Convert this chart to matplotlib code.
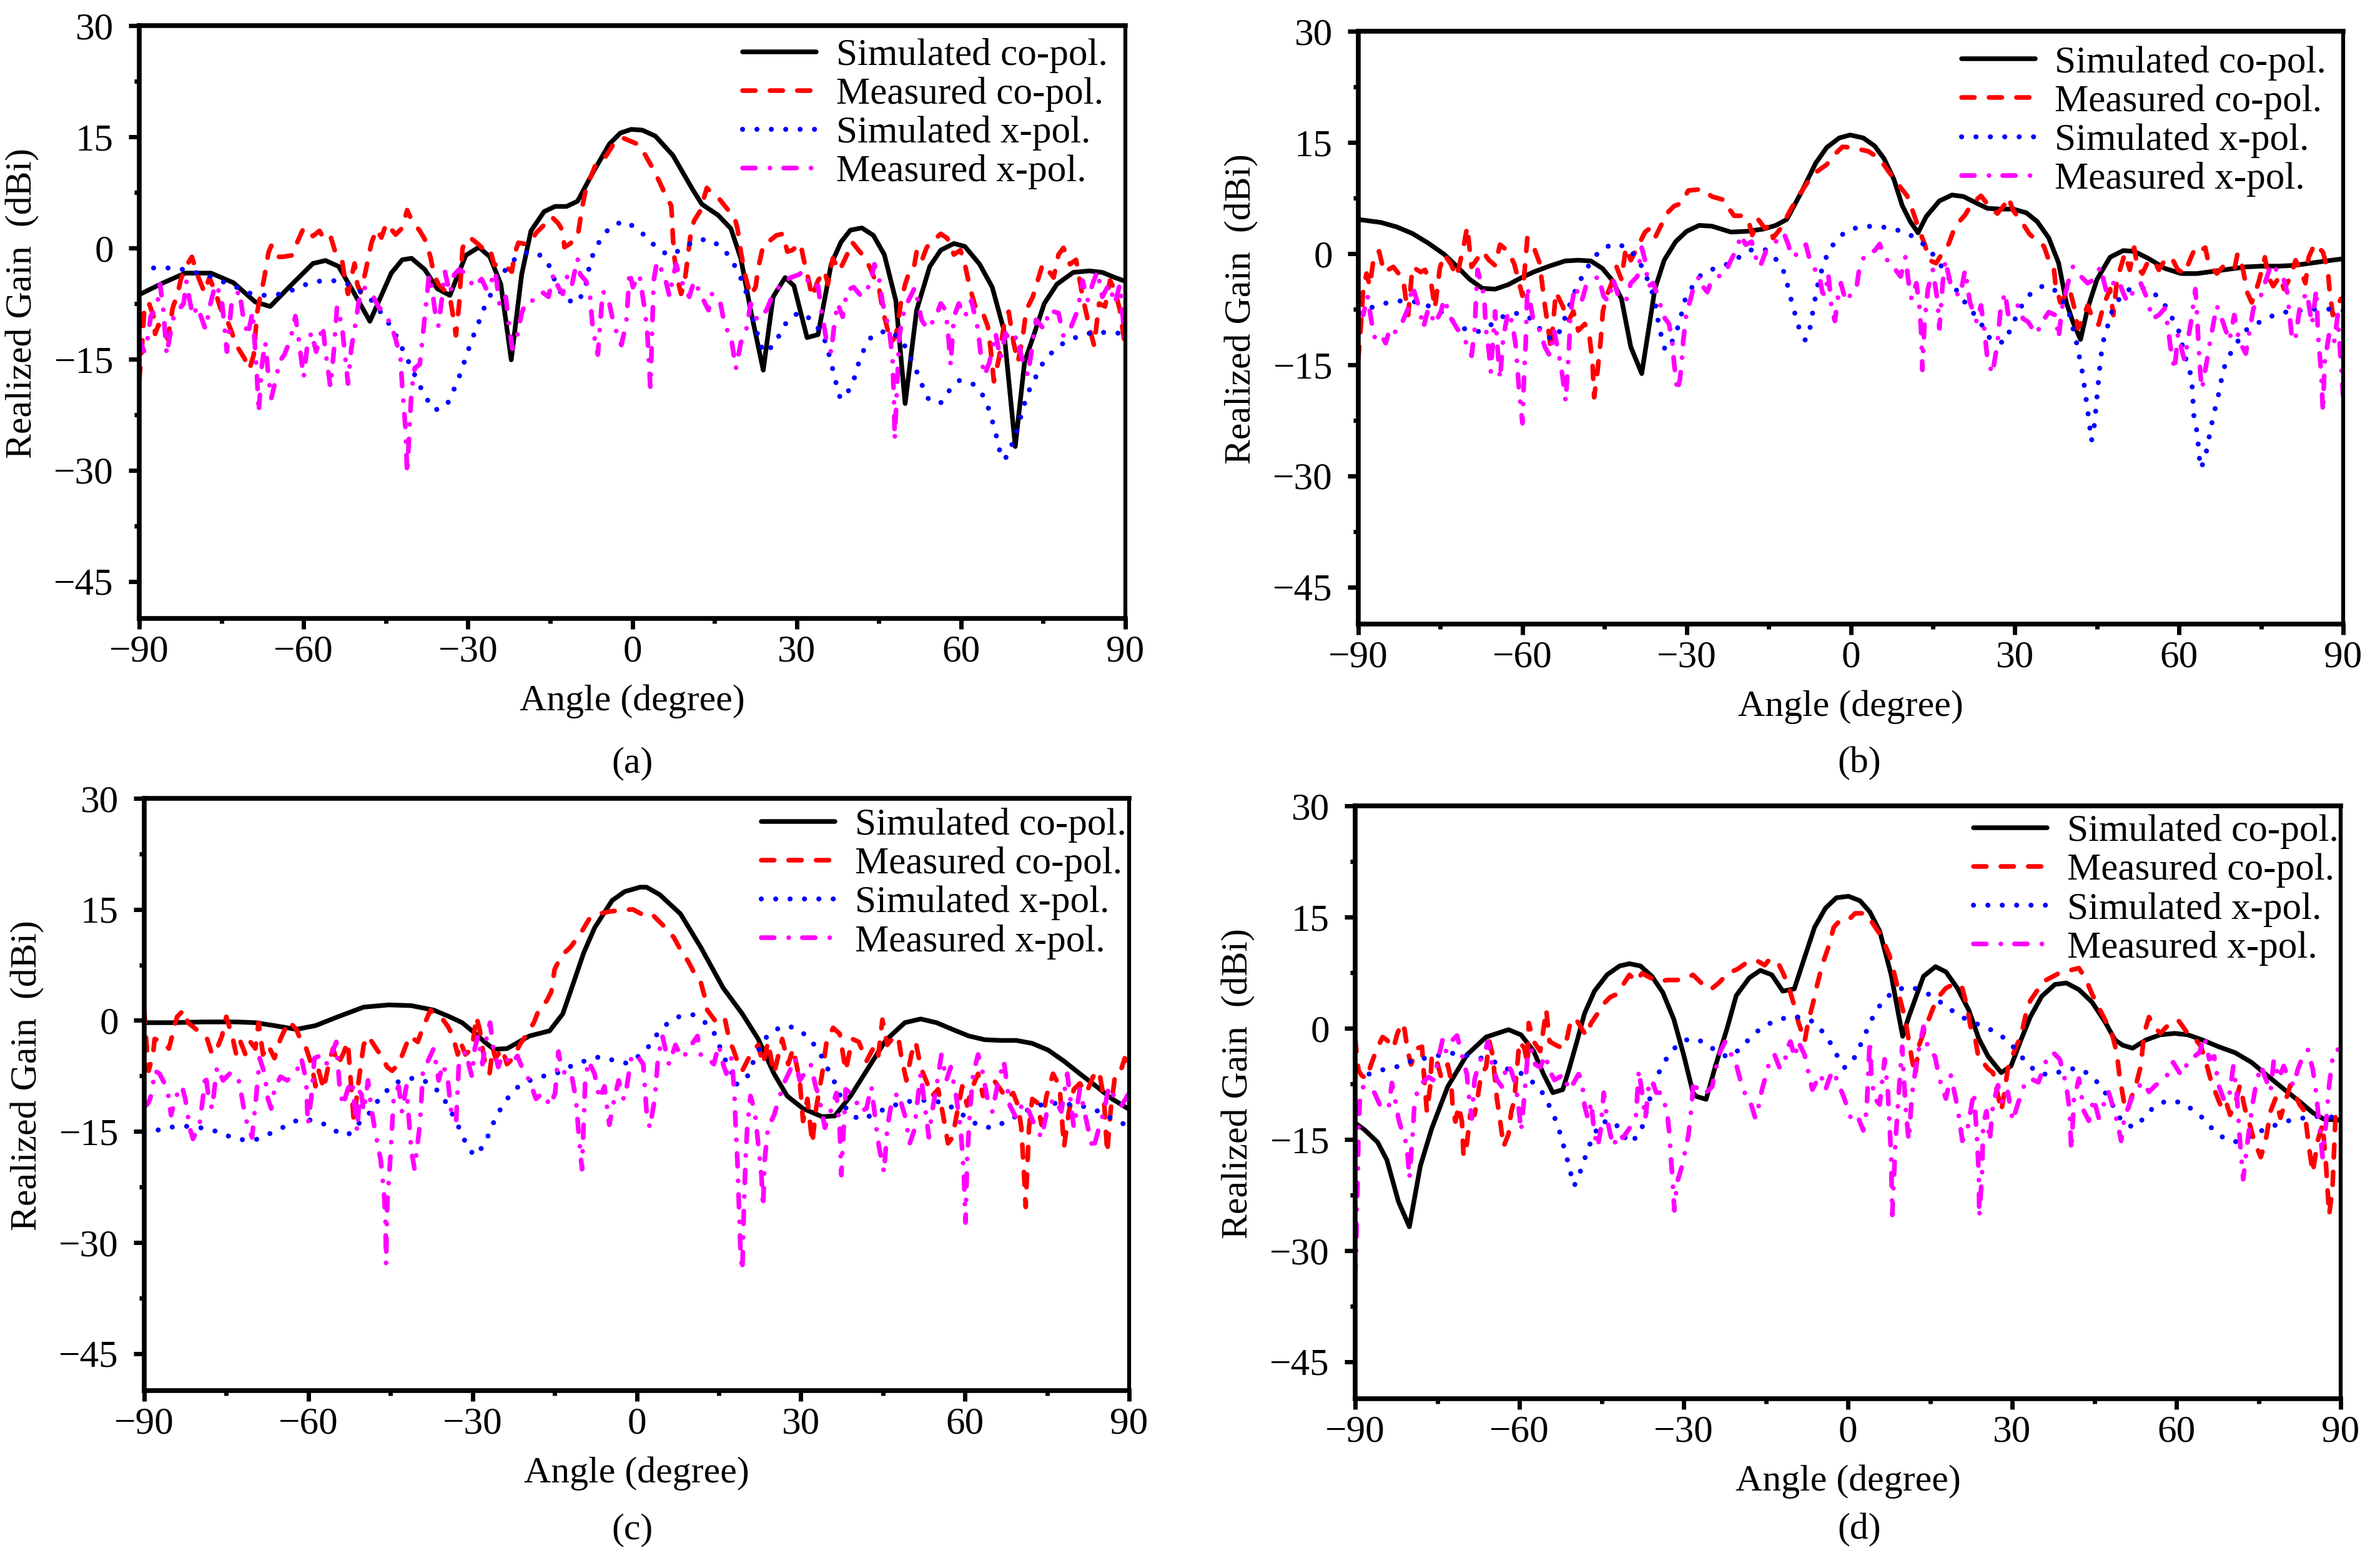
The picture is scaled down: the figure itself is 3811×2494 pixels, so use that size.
import numpy as np
import matplotlib
matplotlib.use('Agg')
import matplotlib.pyplot as plt

plt.rcParams['font.family'] = ['Liberation Serif', 'DejaVu Serif']

LABELS = ['Simulated co-pol.', 'Measured co-pol.', 'Simulated x-pol.', 'Measured x-pol.']
CAPTIONS = ['(a)', '(b)', '(c)', '(d)']
XTICKS = [-90, -60, -30, 0, 30, 60, 90]
YTICKS = [-45, -30, -15, 0, 15, 30]

# ---------------- panel (a) ----------------
a_sim_co = [(-90,-6.3),(-85.6,-4.7),(-81.6,-3.4),(-76.9,-3.4),(-72.8,-4.7),(-68.8,-7.3),(-66.1,-7.9),(-62.4,-5.1),
            (-58.3,-2.1),(-56.0,-1.7),(-53.6,-2.5),(-50.7,-6.2),(-47.9,-9.9),(-44.0,-3.4),(-42.0,-1.6),(-40.3,-1.4),
            (-37.9,-2.9),(-35.6,-5.5),(-33.3,-6.4),(-30.4,-1.0),(-28.0,0.1),(-26.0,-1.2),(-24.0,-4.9),(-22.1,-15.1),
            (-20.2,-3.6),(-18.5,2.3),(-16.1,4.9),(-14.1,5.6),(-12.0,5.6),(-10.0,6.3),(-7.1,10.3),(-4.2,14.0),(-2.2,15.5),
            (-0.2,16.0),(1.8,15.9),(4.2,15.1),(7.4,12.5),(11.0,7.9),(12.7,5.9),(15.7,4.4),(18.0,2.6),(19.8,-1.4),
            (21.6,-8.4),(23.9,-16.5),(25.7,-6.6),(27.9,-4.0),(29.5,-5.1),(31.9,-12.1),(33.9,-11.7),(36.3,-2.2),(38.1,0.8),
            (39.8,2.4),(41.9,2.7),(44.0,1.7),(46.0,-0.9),(48.1,-7.1),(49.8,-21.0),(51.9,-8.4),(54.3,-2.5),(56.3,-0.3),
            (58.7,0.6),(60.7,0.2),(63.4,-2.2),(65.7,-5.3),(67.8,-11.0),(69.9,-26.8),(71.6,-15.4),(73.4,-11.5),(75.2,-7.5),
            (77.5,-4.9),(80.5,-3.3),(83.4,-3.1),(85.8,-3.3),(88.1,-4.0),(90,-4.5)]
a_meas_co = [(-90,-17.9),(-89.4,-12.3),(-89.1,-8.4),(-88.3,-7.3),(-87.4,-9.2),(-87.1,-11.6),(-86.5,-10.4),(-85.6,-11.0),
             (-84.8,-12.3),(-83.9,-8.1),(-83.0,-6.2),(-82.4,-4.2),(-81.6,-2.7),(-80.4,-1.2),(-79.2,-4.0),(-78.1,-6.0),
             (-77.2,-4.0),(-76.0,-6.2),(-75.2,-8.1),(-74.0,-9.7),(-73.1,-11.4),(-72.3,-13.1),(-70.8,-14.9),(-69.9,-16.4),
             (-69.1,-14.4),(-68.5,-8.8),(-67.9,-6.4),(-67.3,-4.5),(-66.4,-0.6),(-65.9,0.3),(-65.0,-1.2),(-63.8,-1.2),
             (-62.1,-1.0),(-61.2,0.7),(-60.0,2.7),(-58.3,1.6),(-57.1,2.3),(-56.3,1.2),(-55.1,1.6),(-54.2,-0.6),(-53.0,-1.6),
             (-52.5,-4.0),(-51.9,-6.2),(-51.3,-4.0),(-50.7,-2.1),(-50.2,-4.9),(-49.6,-6.0),(-48.7,-3.2),(-48.1,-1.0),
             (-47.6,0.7),(-46.7,2.5),(-45.8,1.4),(-44.9,3.3),(-43.2,1.8),(-42.0,2.7),(-41.1,5.1),(-40.3,3.8),(-38.8,2.3),
             (-37.9,1.2),(-37.4,0.3),(-36.8,-1.4),(-36.2,-3.6),(-35.4,-4.9),(-34.2,-5.8),(-33.3,-6.6),(-32.8,-8.8),
             (-32.2,-11.8),(-31.6,-7.5),(-31.0,-0.1),(-30.4,1.2),(-29.3,1.2),(-28.1,0.5),(-27.0,-0.3),(-26.0,-0.1),
             (-25.2,-2.3),(-24.0,-2.1),(-22.8,-2.7),(-22.0,-3.2),(-21.4,-0.6),(-20.8,0.7),(-19.3,0.5),(-18.2,1.2),
             (-17.6,2.0),(-16.1,3.1),(-14.7,4.2),(-13.5,3.3),(-12.7,2.3),(-12.4,0.1),(-11.5,0.5),(-10.0,1.4),(-9.2,5.3),
             (-8.6,7.5),(-7.7,9.4),(-6.6,11.4),(-4.8,12.4),(-3.1,14.4),(-1.6,14.8),(1.0,14.0),(2.4,12.5),(3.9,10.5),
             (5.1,8.7),(6.0,7.2),(7.1,5.7),(7.3,3.5),(7.4,1.5),(7.7,-1.4),(8.3,-4.4),(8.9,-6.2),(9.5,-4.9),(10.1,-1.4),
             (10.7,2.2),(11.3,3.7),(12.4,5.0),(13.6,8.1),(14.8,7.2),(16.0,6.5),(17.4,5.2),(18.6,4.3),(19.2,2.6),
             (19.8,-0.5),(20.7,-4.0),(21.6,-6.4),(22.5,-5.3),(23.0,-2.7),(23.9,0.4),(24.8,0.8),(26.3,1.7),(27.5,1.9),
             (28.3,-0.5),(29.2,-0.3),(30.7,0.6),(31.3,-1.6),(32.2,-4.4),(32.8,-6.6),(33.9,-4.4),(35.1,-3.1),(35.7,-4.9),
             (36.6,-1.4),(37.8,-3.1),(39.2,-0.9),(40.1,0.8),(41.3,-0.3),(42.5,-1.4),(43.4,-2.7),(45.1,-5.7),(45.7,-8.4),
             (46.6,-11.0),(47.2,-12.8),(48.1,-11.9),(49.0,-7.5),(49.8,-4.9),(50.4,-3.6),(51.3,-3.1),(51.9,-0.5),
             (52.8,-1.8),(53.7,0.0),(54.5,0.8),(55.4,1.3),(56.3,1.9),(57.5,1.3),(58.7,-0.9),(59.9,-0.3),(60.7,-2.2),
             (61.6,-5.3),(62.8,-8.4),(64.0,-8.8),(64.9,-10.6),(65.4,-13.6),(66.0,-18.0),(66.9,-15.0),(67.8,-10.6),
             (68.7,-8.6),(69.6,-12.8),(70.4,-15.4),(71.3,-11.9),(71.9,-8.4),(73.1,-6.6),(74.0,-4.4),(74.9,-2.2),
             (76.0,-3.1),(76.9,-4.0),(77.8,-0.9),(78.7,0.0),(79.9,-2.2),(81.0,-1.6),(82.2,-6.6),(83.4,-10.6),
             (84.3,-13.2),(85.2,-7.5),(86.3,-7.9),(87.2,-4.4),(88.1,-5.7),(89.0,-8.4),(90,-13.6)]
a_sim_x = [(-90,-2.9),(-87.4,-2.7),(-84.8,-2.7),(-82.1,-2.9),(-79.8,-3.3),(-77.2,-3.8),(-74.6,-4.6),(-72.3,-5.3),
           (-69.9,-6.1),(-67.4,-6.4),(-64.8,-6.3),(-62.4,-5.8),(-59.9,-5.0),(-57.3,-4.5),(-54.7,-4.4),(-52.2,-4.8),
           (-50.0,-5.7),(-47.8,-6.9),(-46.2,-8.4),(-44.7,-9.9),(-43.3,-11.6),(-42.1,-13.4),(-41.0,-15.1),(-38.8,-18.6),
           (-37.5,-20.4),(-36.1,-21.9),(-33.9,-21.3),(-32.8,-19.5),(-31.8,-17.8),(-30.9,-15.9),(-30.1,-14.1),
           (-29.2,-12.2),(-28.2,-10.4),(-27.3,-8.5),(-26.2,-6.8),(-25.0,-5.1),(-23.7,-3.5),(-22.1,-1.9),(-20.0,-0.7),
           (-17.5,-0.6),(-15.5,-1.8),(-13.8,-5.1),(-12.2,-7.0),(-10.0,-7.4),(-8.6,-5.5),(-7.7,-1.9),(-6.7,0.0),
           (-5.4,1.6),(-3.8,3.0),(-1.4,3.6),(0.9,2.6),(2.8,1.3),(4.6,-0.1),(6.7,-1.0),(9.0,-0.2),(11.2,0.9),(13.7,1.2),
           (16.0,0.3),(17.7,-1.1),(19.0,-2.8),(20.2,-4.7),(21.0,-6.5),(22.2,-10.1),(23.9,-14.1),(26.0,-13.1),
           (27.1,-11.3),(28.5,-9.6),(30.5,-8.7),(32.6,-9.6),(34.2,-11.1),(35.4,-12.9),(36.7,-16.7),(37.3,-18.6),
           (38.0,-20.4),(39.8,-19.0),(40.7,-17.2),(41.4,-15.3),(42.4,-13.5),(43.8,-11.8),(46.7,-11.1),(48.7,-12.1),
           (49.9,-13.4),(51.0,-15.2),(52.1,-17.0),(53.1,-18.9),(54.2,-20.6),(56.3,-20.9),(57.8,-19.3),(59.7,-17.9),
           (62.1,-18.3),(63.9,-19.8),(64.9,-21.4),(65.7,-23.3),(66.4,-25.2),(67.0,-27.2),(67.7,-28.6),(68.6,-28.0),
           (70.2,-24.7),(70.9,-22.8),(71.6,-21.0),(72.6,-18.9),(74.9,-15.6),(76.6,-14.1),(78.6,-12.9),(80.9,-12.1),
           (83.5,-11.5),(86.1,-11.4),(88.7,-11.5),(90,-11.6)]
a_meas_x = [(-90,-12.3),(-89.1,-14.0),(-88.5,-12.3),(-87.9,-9.2),(-86.8,-8.1),(-86.2,-4.9),(-85.6,-8.4),(-85.0,-14.4),
            (-84.5,-12.3),(-83.9,-9.7),(-83.3,-8.8),(-81.9,-7.5),(-81.4,-4.5),(-80.8,-7.1),(-80.2,-9.2),(-79.4,-7.9),
            (-77.9,-11.0),(-77.0,-7.5),(-76.1,-4.9),(-75.0,-6.6),(-74.0,-14.0),(-73.1,-7.1),(-71.7,-5.8),(-71.1,-9.0),
            (-70.2,-11.8),(-69.3,-8.6),(-68.5,-17.5),(-68.2,-22.2),(-67.6,-15.7),(-67.0,-12.7),(-66.4,-17.5),
            (-65.9,-20.3),(-65.0,-17.5),(-64.4,-15.3),(-63.5,-14.4),(-62.4,-12.3),(-61.5,-9.2),(-60.9,-12.3),
            (-60.0,-17.5),(-59.4,-13.6),(-58.6,-11.4),(-57.7,-14.0),(-56.5,-10.5),(-56.0,-14.0),(-55.1,-18.8),
            (-54.5,-14.0),(-53.9,-7.9),(-53.0,-10.5),(-52.5,-14.0),(-51.9,-18.3),(-51.3,-13.6),(-50.7,-11.0),
            (-49.9,-7.1),(-49.0,-5.3),(-47.5,-6.2),(-46.4,-7.9),(-45.2,-8.8),(-44.0,-10.5),(-43.2,-12.3),(-42.3,-14.9),
            (-42.0,-18.8),(-41.4,-24.4),(-41.1,-30.5),(-40.6,-23.5),(-40.3,-19.2),(-39.7,-16.2),(-38.8,-15.7),
            (-38.3,-12.3),(-37.7,-7.9),(-37.1,-3.6),(-36.5,-5.8),(-35.9,-9.2),(-35.4,-10.5),(-34.8,-7.1),(-34.2,-3.2),
            (-33.3,-6.2),(-32.5,-3.6),(-31.6,-2.9),(-30.1,-3.6),(-29.0,-5.3),(-27.5,-4.2),(-26.5,-5.8),(-25.0,-3.2),
            (-24.2,-7.9),(-23.1,-6.6),(-22.5,-10.5),(-21.9,-13.6),(-21.0,-11.8),(-20.2,-8.8),(-19.3,-7.1),(-18.2,-7.1),
            (-16.4,-6.0),(-15.3,-6.6),(-14.4,-3.6),(-13.5,-5.3),(-12.7,-6.2),(-11.8,-3.6),(-11.0,-4.9),(-10.0,-1.4),
            (-9.5,-3.6),(-8.4,-4.5),(-7.7,-6.6),(-7.2,-11.0),(-6.3,-14.4),(-5.4,-5.8),(-4.3,-7.1),(-3.7,-9.2),
            (-2.8,-11.6),(-2.0,-13.1),(-1.1,-10.1),(-0.5,-3.2),(0.1,-5.3),(1.3,-3.6),(2.1,-7.5),(2.7,-11.0),(3.0,-15.0),
            (3.3,-18.9),(3.9,-4.4),(4.5,-1.8),(5.9,-3.8),(6.8,-6.6),(7.4,-4.0),(8.0,-2.2),(8.9,-4.4),(10.4,-6.6),
            (11.3,-4.4),(12.7,-6.6),(13.9,-8.4),(14.5,-6.2),(16.0,-7.1),(16.9,-10.6),(18.0,-11.9),(18.9,-16.3),
            (19.8,-12.8),(20.7,-11.5),(21.6,-7.5),(22.8,-9.7),(24.5,-8.4),(25.7,-6.2),(27.5,-4.7),(28.9,-4.0),
            (30.4,-3.6),(31.3,-3.1),(32.5,-5.3),(33.9,-5.1),(34.5,-8.4),(35.4,-12.3),(36.3,-14.1),(36.9,-10.1),
            (37.5,-7.5),(38.4,-9.3),(39.2,-5.7),(40.4,-5.3),(41.9,-6.6),(43.4,-4.9),(44.2,-2.2),(45.1,-4.4),
            (45.7,-7.5),(46.9,-11.0),(47.5,-15.0),(47.8,-21.5),(47.9,-25.9),(48.7,-12.3),(49.3,-9.3),(50.4,-7.1),
            (51.6,-5.3),(52.8,-9.7),(53.9,-11.0),(55.4,-9.3),(56.3,-7.5),(57.2,-8.4),(57.8,-12.8),(58.1,-15.8),
            (58.7,-9.3),(59.6,-7.5),(60.7,-9.3),(61.9,-7.1),(63.1,-11.0),(63.7,-15.0),(64.3,-17.2),(65.2,-15.4),
            (66.3,-11.5),(67.2,-15.0),(68.1,-11.5),(69.3,-12.8),(70.2,-11.9),(71.3,-15.4),(72.2,-17.2),(73.1,-12.8),
            (73.7,-9.7),(75.2,-11.0),(76.1,-8.4),(77.8,-8.8),(78.7,-11.9),(79.9,-11.0),(81.3,-8.4),(82.2,-4.4),
            (83.1,-7.1),(84.0,-4.9),(84.9,-3.1),(85.8,-6.6),(87.0,-4.9),(88.1,-7.5),(89.0,-4.9),(90,-13.2)]

# ---------------- panel (b) ----------------
b_sim_co = [(-90,4.6),(-85.9,4.2),(-83.0,3.6),(-80.1,2.7),(-77.2,1.4),(-74.3,-0.1),(-71.9,-1.8),(-69.6,-3.5),
            (-67.3,-4.7),(-65.0,-4.8),(-62.6,-4.2),(-60.3,-3.3),(-58.0,-2.5),(-55.1,-1.7),(-52.2,-1.0),(-49.8,-0.9),
            (-47.5,-1.0),(-45.4,-2.0),(-43.7,-3.5),(-41.9,-6.1),(-40.2,-12.6),(-38.2,-16.2),(-36.7,-9.1),(-35.8,-4.8),
            (-34.1,-0.9),(-32.0,1.6),(-30.0,3.0),(-27.7,3.8),(-25.4,3.7),(-21.9,2.9),(-19.0,3.0),(-16.0,3.3),(-13.7,3.8),
            (-11.7,4.6),(-9.0,8.3),(-6.4,12.2),(-4.4,14.3),(-2.1,15.6),(-0.1,16.0),(2.3,15.6),(4.4,14.5),(6.1,12.8),
            (7.9,10.0),(9.4,6.5),(10.9,4.3),(12.3,2.8),(13.8,5.0),(16.2,7.1),(18.5,7.9),(20.6,7.7),(23.0,6.8),(25.0,6.1),
            (27.4,6.0),(29.7,6.0),(32.1,5.5),(34.1,4.3),(36.2,2.1),(38.0,-1.3),(39.4,-6.6),(40.6,-9.2),(42.0,-11.6),
            (43.3,-7.4),(45.0,-3.5),(47.4,-0.5),(49.8,0.4),(51.8,0.3),(54.5,-0.7),(57.4,-2.0),(60.4,-2.7),(63.3,-2.7),
            (66.3,-2.4),(69.2,-2.1),(72.2,-1.8),(75.1,-1.7),(78.1,-1.7),(81.0,-1.6),(84.0,-1.3),(86.9,-1.0),(90,-0.7)]
b_meas_co = [(-90,-14.3),(-89.5,-9.5),(-89.1,-4.8),(-88.5,-2.7),(-87.9,-4.4),(-87.1,-0.1),(-86.2,0.3),(-85.3,-2.5),
             (-83.6,-1.8),(-81.8,-3.5),(-80.9,-8.3),(-80.1,-1.8),(-78.6,-2.5),(-77.8,-2.2),(-76.6,-4.4),(-76.0,-7.4),
             (-75.1,-2.0),(-74.3,-0.1),(-73.1,-1.4),(-72.0,-3.1),(-70.8,0.8),(-70.1,3.6),(-69.3,-1.8),(-67.3,0.3),
             (-66.1,-0.9),(-65.0,-1.6),(-64.1,1.2),(-62.6,0.3),(-61.5,-1.4),(-60.9,-3.1),(-60.0,-5.7),(-59.1,2.1),
             (-57.9,0.8),(-56.8,-1.4),(-56.5,-3.5),(-55.9,-7.0),(-55.3,-10.0),(-54.8,-13.0),(-53.9,-5.2),(-52.7,-7.0),
             (-51.6,-9.1),(-50.7,-7.8),(-49.8,-10.4),(-48.6,-9.5),(-47.8,-10.8),(-47.2,-14.7),(-46.9,-19.4),
             (-46.3,-16.0),(-45.7,-11.7),(-45.3,-7.8),(-44.6,-5.7),(-43.7,-4.0),(-42.8,-1.8),(-41.9,-3.5),(-41.1,0.8),
             (-40.2,-0.9),(-39.0,0.8),(-37.6,2.9),(-36.7,3.4),(-35.8,2.1),(-34.4,4.2),(-33.5,5.5),(-32.3,6.4),(-30.9,6.8),
             (-29.7,8.5),(-27.1,8.7),(-25.4,7.7),(-23.0,7.2),(-22.1,5.9),(-21.3,5.1),(-19.5,5.1),(-18.6,4.2),(-18.0,2.5),
             (-16.9,4.6),(-15.7,3.4),(-14.8,3.8),(-14.2,2.1),(-12.8,3.4),(-11.0,5.9),(-9.6,7.7),(-7.9,9.6),(-6.1,11.1),
             (-4.4,12.0),(-3.2,13.2),(-1.5,14.4),(0.2,14.3),(3.2,13.8),(5.3,12.8),(6.7,11.3),(8.5,9.5),(10.3,7.8),
             (11.4,5.6),(12.6,3.0),(13.5,1.3),(14.4,-0.9),(15.6,-1.3),(16.7,0.0),(17.9,1.3),(19.1,3.7),(20.9,5.2),
             (22.1,6.7),(23.8,7.8),(25.6,6.1),(26.8,5.4),(28.0,6.5),(28.8,7.6),(29.7,5.8),(31.2,4.3),(32.7,2.6),
             (34.1,1.7),(35.3,1.0),(36.2,-0.9),(37.1,-1.8),(37.4,-4.0),(38.3,-6.6),(39.2,-5.7),(40.0,-4.8),(40.9,-7.4),
             (41.5,-10.1),(42.4,-8.8),(43.3,-7.0),(44.5,-9.2),(45.3,-9.6),(46.2,-7.0),(47.4,-4.8),(48.0,-8.3),
             (48.6,-4.0),(49.2,-2.2),(50.1,0.0),(51.0,-2.2),(51.8,0.8),(52.4,-1.8),(53.3,-2.7),(54.2,-1.3),(55.4,-0.9),
             (56.3,-2.2),(57.4,-0.9),(58.6,-0.5),(59.8,-2.2),(61.0,-2.7),(62.2,-0.5),(63.0,0.8),(63.9,0.4),(64.8,0.8),
             (65.4,-1.3),(66.9,-2.7),(68.0,-1.8),(69.2,-2.2),(70.1,-2.2),(70.7,0.0),(71.6,-1.8),(72.5,-5.3),(73.3,-6.6),
             (74.5,-4.0),(75.7,-0.5),(76.3,-3.1),(77.2,-4.4),(78.4,-3.1),(79.2,-4.8),(80.4,-3.1),(81.3,-0.9),
             (82.2,-2.2),(83.1,-4.0),(83.7,-0.5),(84.8,1.3),(86.3,0.2),(87.2,-2.2),(87.5,-4.8),(88.1,-8.3),(88.7,-7.4),
             (89.6,-6.1)]
b_sim_x = [(-90,-7.8),(-87.7,-7.3),(-85.0,-6.7),(-82.4,-6.4),(-79.8,-6.5),(-77.4,-7.0),(-75.0,-7.8),(-72.9,-9.0),
           (-70.8,-10.1),(-68.3,-10.6),(-66.1,-9.8),(-63.9,-8.6),(-61.6,-8.0),(-59.1,-8.4),(-57.2,-9.8),(-55.6,-11.3),
           (-53.8,-11.5),(-52.7,-9.6),(-51.8,-7.8),(-50.9,-6.0),(-49.9,-4.2),(-48.6,-2.5),(-47.3,-0.9),(-45.6,0.6),
           (-43.3,1.3),(-40.9,0.9),(-39.2,-0.5),(-37.8,-2.2),(-36.9,-4.0),(-36.0,-5.8),(-35.5,-7.7),(-35.1,-9.6),
           (-34.5,-11.5),(-33.9,-13.1),(-32.3,-11.5),(-31.5,-9.7),(-30.8,-7.8),(-30.2,-6.0),(-28.8,-4.3),(-27.3,-2.8),
           (-24.9,-2.0),(-22.4,-1.4),(-20.2,-0.4),(-17.9,0.6),(-15.5,0.5),(-13.5,-0.9),(-12.2,-2.5),(-11.5,-4.4),
           (-10.9,-6.2),(-10.2,-8.1),(-9.5,-9.9),(-8.3,-11.7),(-7.7,-11.0),(-7.2,-9.1),(-6.8,-7.2),(-6.3,-5.3),
           (-5.8,-3.4),(-5.0,-1.6),(-4.1,0.3),(-2.6,1.8),(-0.9,3.0),(1.6,3.6),(4.2,3.7),(6.7,3.5),(9.4,3.0),(11.7,2.2),
           (13.7,1.0),(15.5,-0.5),(16.9,-2.1),(18.3,-3.7),(19.7,-5.4),(21.2,-6.9),(22.8,-8.4),(24.4,-10.1),
           (25.7,-11.8),(28.1,-12.0),(30.3,-8.4),(31.5,-6.7),(33.1,-5.2),(35.3,-4.3),(37.4,-5.0),(38.9,-6.6),
           (40.0,-8.3),(41.3,-12.1),(42.3,-15.9),(42.7,-17.9),(43.4,-21.7),(44.0,-25.3),(44.5,-23.3),(45.0,-19.4),
           (45.5,-15.5),(45.8,-13.5),(46.2,-11.7),(47.7,-7.9),(49.0,-6.2),(50.7,-4.9),(53.2,-4.6),(55.5,-5.4),
           (57.3,-6.8),(58.6,-8.5),(59.9,-10.3),(61.2,-14.1),(62.0,-15.9),(62.4,-17.9),(62.7,-21.8),(63.2,-23.7),
           (63.5,-25.7),(63.9,-29.0),(64.5,-28.2),(65.0,-26.7),(65.5,-24.8),(66.0,-22.9),(66.6,-20.9),(67.2,-19.1),
           (67.7,-17.2),(68.3,-15.3),(69.4,-13.5),(70.7,-11.9),(72.3,-10.3),(74.6,-9.3),(77.1,-8.4),(79.5,-7.9),
           (82.2,-7.7),(84.8,-7.5),(87.3,-7.5),(90,-7.7)]
b_meas_x = [(-90,-7.8),(-89.1,-8.3),(-88.3,-5.7),(-87.7,-8.7),(-87.1,-11.3),(-85.9,-10.8),(-85.0,-12.1),(-84.2,-10.0),
            (-83.3,-10.6),(-82.1,-9.5),(-80.9,-7.4),(-80.1,-4.4),(-79.2,-6.5),(-78.6,-8.3),(-78.1,-10.0),(-77.2,-7.4),
            (-76.0,-9.5),(-74.9,-7.8),(-74.3,-6.1),(-73.1,-8.7),(-71.7,-10.4),(-69.8,-12.6),(-69.3,-13.8),(-68.7,-10.0),
            (-68.5,-6.1),(-68.2,-2.2),(-67.0,-5.7),(-66.7,-10.0),(-66.1,-13.4),(-65.8,-16.0),(-65.0,-7.8),(-64.4,-14.3),
            (-64.1,-16.9),(-63.5,-11.3),(-62.6,-7.8),(-61.8,-9.5),(-61.2,-12.6),(-60.9,-15.6),(-60.6,-18.6),
            (-60.0,-22.9),(-59.7,-16.4),(-59.4,-12.1),(-59.1,-4.4),(-58.5,-7.0),(-57.9,-9.5),(-56.8,-10.4),
            (-55.9,-12.6),(-55.0,-13.8),(-54.2,-10.4),(-53.3,-13.8),(-52.7,-16.4),(-52.1,-19.9),(-51.5,-13.0),
            (-51.2,-7.8),(-50.4,-4.4),(-49.2,-6.5),(-48.4,-4.4),(-46.9,-3.5),(-46.1,-3.1),(-45.2,-5.7),(-44.3,-6.5),
            (-43.4,-3.5),(-42.5,-5.7),(-41.1,-6.5),(-40.2,-4.0),(-39.0,-3.1),(-38.2,0.8),(-37.6,-0.9),(-37.0,-4.4),
            (-36.1,-4.0),(-34.9,-6.5),(-34.4,-8.3),(-33.2,-9.5),(-32.6,-12.1),(-32.3,-14.7),(-31.7,-18.6),
            (-31.2,-16.9),(-30.9,-14.7),(-30.6,-11.7),(-30.0,-7.8),(-29.4,-6.5),(-28.8,-4.8),(-27.7,-3.1),(-27.1,-4.4),
            (-26.2,-5.2),(-25.4,-3.5),(-24.2,-3.1),(-23.0,-2.7),(-21.9,-0.9),(-20.7,0.8),(-20.1,2.5),(-19.2,1.2),
            (-18.1,1.6),(-17.2,-0.9),(-16.6,-1.8),(-15.5,0.3),(-13.7,1.6),(-12.2,2.7),(-11.4,1.2),(-10.8,-0.5),
            (-9.9,-0.1),(-8.2,1.2),(-7.6,-0.5),(-7.0,-1.8),(-5.8,-2.7),(-5.2,-5.2),(-4.7,-5.7),(-4.1,-2.7),(-3.5,-7.4),
            (-2.9,-9.1),(-2.3,-5.7),(-1.8,-4.0),(-0.9,-6.5),(0.2,-5.3),(1.1,-4.4),(1.7,-1.3),(2.9,0.0),(4.4,0.4),
            (5.3,1.3),(6.1,-0.5),(7.3,-1.3),(8.2,-2.2),(9.1,-3.1),(10.0,-0.5),(10.6,-4.0),(11.1,-6.1),(12.0,-4.0),
            (12.6,-7.4),(12.9,-10.9),(13.1,-15.7),(13.5,-9.2),(14.1,-4.8),(15.0,-2.2),(15.9,-6.6),(16.2,-10.1),
            (16.8,-4.0),(17.3,-0.9),(18.2,-4.0),(19.1,-5.3),(20.0,-5.7),(20.9,-2.2),(21.8,-6.6),(23.0,-9.2),(23.8,-7.0),
            (24.4,-10.1),(25.0,-14.4),(25.9,-16.2),(26.8,-12.2),(27.4,-7.4),(28.2,-5.3),(28.8,-8.3),(29.7,-7.4),
            (30.6,-7.0),(31.5,-8.8),(32.4,-9.2),(33.9,-10.9),(35.0,-9.2),(36.2,-7.9),(37.4,-8.3),(38.0,-11.4),
            (38.6,-7.4),(39.7,-4.0),(40.6,-1.8),(41.8,-2.9),(43.3,-4.0),(44.5,-3.5),(45.6,-1.8),(46.8,-5.3),(48.0,-4.0),
            (48.9,-3.5),(49.8,-5.3),(50.6,-6.6),(51.5,-5.3),(53.0,-4.0),(54.2,-6.1),(55.1,-8.8),(56.3,-8.3),(57.4,-7.4),
            (58.0,-10.1),(58.6,-13.5),(59.2,-15.7),(59.8,-10.9),(60.4,-12.7),(61.0,-14.4),(62.2,-9.2),(63.0,-4.8),
            (63.3,-8.3),(63.6,-12.7),(63.9,-16.2),(64.2,-18.3),(64.8,-15.7),(65.7,-11.8),(66.9,-7.0),(68.0,-9.2),
            (69.2,-11.8),(70.1,-8.3),(71.0,-11.8),(72.2,-13.5),(73.1,-9.6),(73.6,-7.4),(74.8,-6.1),(75.7,-4.0),
            (76.9,-1.3),(77.8,-2.2),(79.0,-3.1),(79.8,-5.3),(80.7,-11.8),(81.3,-11.4),(82.2,-6.6),(83.4,-5.3),
            (84.3,-9.6),(85.1,-4.8),(85.4,-10.9),(86.0,-16.2),(86.3,-21.4),(86.6,-14.8),(87.5,-10.5),(88.4,-11.8),
            (89.0,-8.3),(89.6,-14.8),(90,-19.2)]

# ---------------- panel (c) ----------------
c_sim_co = [(-90,-0.3),(-84.9,-0.3),(-79.1,-0.2),(-73.2,-0.2),(-69.7,-0.3),(-66.2,-0.7),(-62.2,-1.2),(-58.7,-0.7),
            (-54.6,0.5),(-49.9,1.8),(-45.3,2.1),(-41.2,2.0),(-37.1,1.4),(-34.2,0.5),(-31.9,-0.3),(-29.6,-1.7),
            (-27.8,-2.9),(-26.1,-3.9),(-23.7,-3.8),(-22.0,-3.1),(-19.6,-2.1),(-15.9,-1.4),(-13.5,0.9),(-11.5,5.2),
            (-9.7,9.1),(-7.7,12.5),(-4.5,16.2),(-2.2,17.4),(0.6,18.0),(1.8,18.0),(4.2,17.0),(8.0,14.4),(11.7,9.9),
            (15.8,4.4),(19.3,0.9),(22.2,-2.5),(25.1,-7.2),(27.5,-10.2),(30.4,-11.9),(33.9,-13.0),(36.2,-12.9),
            (39.1,-10.2),(42.0,-6.8),(45.5,-2.7),(49.0,-0.3),(51.9,0.2),(54.8,-0.3),(57.7,-1.2),(60.7,-2.1),(63.6,-2.6),
            (66.5,-2.7),(69.4,-2.7),(72.3,-3.1),(75.2,-4.0),(78.1,-5.5),(81.0,-7.2),(84.0,-8.9),(86.9,-10.6),(90,-12.0)]
c_meas_co = [(-90,1.4),(-89.7,-2.1),(-89.2,-6.8),(-88.4,-4.6),(-88.1,-2.5),(-86.6,-2.9),(-85.5,-3.8),(-84.6,-1.2),
             (-84.0,0.5),(-82.8,1.4),(-82.0,-0.3),(-80.5,-1.2),(-79.3,-2.1),(-78.5,-2.5),(-77.6,-4.6),(-76.7,-3.8),
             (-75.8,-2.1),(-75.0,0.5),(-73.8,-2.5),(-73.2,-4.6),(-72.4,-2.9),(-71.5,-4.6),(-70.6,-2.9),(-69.7,-3.8),
             (-69.1,-0.3),(-68.3,-4.6),(-67.4,-3.3),(-66.2,-5.1),(-65.1,-2.5),(-63.6,-0.1),(-62.2,-1.2),(-61.3,-2.9),
             (-60.4,-3.8),(-59.8,-5.1),(-59.2,-6.8),(-58.7,-8.9),(-58.1,-6.8),(-57.2,-9.3),(-56.3,-5.9),(-55.5,-3.8),
             (-54.6,-5.9),(-53.7,-4.6),(-52.8,-2.9),(-52.0,-10.6),(-51.7,-13.6),(-50.8,-8.1),(-49.9,-3.3),(-49.1,-2.1),
             (-47.6,-3.8),(-46.4,-5.1),(-45.6,-6.3),(-44.7,-6.8),(-43.5,-5.9),(-42.4,-3.8),(-41.5,-2.1),(-40.0,-2.9),
             (-39.2,-1.2),(-37.7,1.4),(-36.5,0.5),(-35.4,0.1),(-34.5,-0.8),(-33.6,-2.1),(-32.7,-4.6),(-32.2,-2.9),
             (-31.3,-4.6),(-30.1,-3.8),(-29.3,0.5),(-28.7,-1.2),(-27.8,-5.5),(-26.9,-7.2),(-26.3,-3.8),(-25.8,-5.1),
             (-24.6,-3.8),(-23.7,-5.9),(-22.6,-5.1),(-21.4,-3.3),(-20.3,-2.1),(-18.8,-0.3),(-17.9,1.4),(-16.4,2.7),
             (-15.6,3.9),(-15.0,6.9),(-13.8,8.7),(-12.1,9.9),(-10.3,11.7),(-8.6,13.8),(-6.8,14.4),(-5.1,14.7),
             (-2.8,14.9),(-0.7,15.0),(1.8,14.0),(3.0,14.2),(5.3,12.5),(6.8,11.2),(8.2,9.3),(9.4,8.0),(10.6,6.3),
             (11.7,5.2),(12.6,2.7),(12.9,1.4),(14.6,-0.3),(16.1,0.3),(17.0,-2.9),(17.6,-3.8),(18.4,-5.5),(19.3,-6.8),
             (20.8,-4.6),(22.2,-3.3),(23.1,-5.9),(24.0,-2.9),(25.1,-7.2),(26.6,-2.5),(27.7,-5.9),(28.6,-3.8),
             (29.8,-8.1),(30.4,-13.6),(31.2,-10.6),(32.1,-16.6),(32.7,-12.3),(33.9,-7.2),(34.7,-2.9),(35.9,-1.0),
             (37.1,-1.8),(38.2,-6.8),(39.4,-2.5),(40.6,-2.9),(42.0,-5.5),(43.2,-3.8),(44.1,-5.1),(44.9,0.1),(45.8,-3.3),
             (46.7,-2.5),(47.8,-2.1),(48.4,-5.1),(49.3,-8.1),(50.2,-4.6),(51.0,-2.9),(51.9,-6.3),(53.1,-8.5),
             (54.0,-10.2),(55.1,-9.3),(56.0,-12.8),(56.9,-16.6),(57.7,-15.8),(58.6,-12.3),(59.5,-8.9),(60.4,-11.5),
             (61.2,-9.3),(62.4,-7.2),(63.3,-10.2),(64.1,-8.9),(65.3,-8.1),(66.5,-9.3),(67.6,-10.6),(68.8,-9.8),
             (69.7,-11.5),(70.3,-14.5),(70.8,-20.9),(71.1,-25.2),(71.7,-14.5),(72.3,-10.6),(73.2,-11.1),(74.0,-14.1),
             (74.9,-10.2),(76.1,-7.2),(77.3,-8.9),(78.1,-17.1),(79.0,-12.3),(79.9,-9.3),(81.0,-8.5),(82.2,-9.8),
             (83.4,-7.6),(84.5,-6.8),(85.4,-10.6),(86.0,-17.9),(86.6,-12.3),(87.4,-7.6),(88.3,-7.2),(89.2,-5.1),
             (90,-6.3)]
c_sim_x = [(-90,-15.3),(-87.5,-14.8),(-84.9,-14.4),(-82.3,-14.3),(-79.7,-14.5),(-77.2,-14.9),(-74.7,-15.6),
           (-72.2,-16.1),(-69.6,-16.1),(-67.1,-15.3),(-64.8,-14.5),(-62.5,-13.6),(-60.0,-13.4),(-57.4,-13.9),
           (-55.2,-14.9),(-52.8,-15.5),(-50.5,-13.7),(-49.2,-12.9),(-47.8,-11.3),(-46.1,-9.8),(-44.3,-8.5),
           (-41.9,-7.8),(-39.4,-7.9),(-37.1,-8.9),(-35.4,-10.4),(-34.2,-11.9),(-32.9,-13.8),(-31.8,-15.6),
           (-30.8,-17.3),(-29.5,-18.3),(-27.9,-16.8),(-26.8,-15.0),(-25.9,-13.3),(-24.6,-11.6),(-23.1,-10.0),
           (-21.3,-8.7),(-18.9,-7.9),(-16.4,-7.4),(-14.0,-7.0),(-11.6,-6.0),(-9.2,-5.4),(-6.7,-4.9),(-4.1,-5.4),
           (-1.7,-5.8),(0.4,-4.8),(2.1,-3.6),(3.7,-1.9),(5.5,-0.5),(7.7,0.5),(10.2,0.8),(12.4,-0.2),(14.1,-1.6),
           (16.1,-5.2),(17.3,-6.8),(18.0,-8.7),(20.0,-8.0),(21.0,-6.1),(23.1,-2.7),(25.1,-1.3),(27.5,-0.7),(29.8,-1.3),
           (31.7,-2.6),(33.3,-4.1),(34.4,-5.8),(35.6,-7.5),(36.8,-9.3),(37.6,-11.1),(39.1,-12.8),(41.1,-13.4),
           (43.5,-12.6),(45.8,-11.8),(48.1,-11.2),(50.8,-10.8),(53.4,-10.8),(56.0,-11.1),(58.3,-12.0),(60.4,-13.2),
           (62.7,-14.3),(65.0,-14.5),(67.4,-13.7),(69.7,-12.8),(72.0,-11.9),(74.3,-11.3),(76.7,-11.2),(79.9,-11.4),
           (82.2,-11.7),(84.5,-12.3),(87.2,-13.4),(90,-14.3)]
c_meas_x = [(-90,-11.7),(-89.2,-11.1),(-88.6,-9.8),(-88.1,-6.8),(-87.2,-7.2),(-86.3,-8.5),(-85.7,-9.6),(-85.1,-12.8),
            (-84.3,-10.4),(-83.1,-8.9),(-82.5,-10.6),(-81.7,-14.5),(-81.1,-16.0),(-79.9,-14.1),(-79.3,-10.6),
            (-78.8,-7.2),(-78.2,-10.6),(-77.6,-11.9),(-76.7,-6.3),(-75.6,-8.1),(-74.4,-7.2),(-72.9,-7.4),(-72.1,-10.6),
            (-71.5,-13.2),(-70.3,-15.8),(-69.7,-11.5),(-68.9,-5.1),(-68.0,-7.2),(-67.4,-10.6),(-66.8,-11.9),
            (-66.2,-9.3),(-65.1,-7.6),(-63.9,-8.1),(-62.2,-7.0),(-61.3,-5.1),(-60.4,-8.1),(-60.1,-14.1),(-59.5,-10.6),
            (-58.9,-5.1),(-57.4,-4.6),(-56.6,-5.9),(-55.8,-4.6),(-54.9,-2.9),(-54.3,-8.9),(-53.7,-11.5),(-52.8,-9.3),
            (-52.0,-8.1),(-51.1,-14.9),(-50.5,-8.9),(-49.9,-12.3),(-49.1,-8.1),(-48.5,-11.9),(-47.6,-15.8),
            (-46.8,-18.8),(-46.2,-23.1),(-45.9,-27.3),(-45.8,-32.9),(-45.6,-24.8),(-45.0,-18.3),(-44.4,-10.2),
            (-43.5,-8.9),(-42.9,-12.3),(-42.1,-8.9),(-41.2,-17.5),(-40.6,-20.1),(-39.7,-14.5),(-39.4,-11.5),
            (-39.1,-7.2),(-38.3,-5.7),(-37.1,-3.8),(-36.2,-8.1),(-35.4,-5.9),(-34.5,-8.1),(-33.9,-12.3),(-33.0,-13.6),
            (-32.5,-5.9),(-31.3,-4.2),(-30.1,-7.6),(-29.6,-3.8),(-29.0,-2.1),(-28.2,-5.9),(-27.6,-2.9),(-26.8,-0.3),
            (-26.2,-3.8),(-25.3,-6.3),(-24.5,-4.6),(-23.0,-5.9),(-21.8,-4.8),(-20.7,-6.8),(-19.6,-8.1),(-18.4,-10.6),
            (-17.2,-9.8),(-15.8,-11.5),(-14.9,-9.8),(-14.3,-4.2),(-13.7,-6.8),(-12.8,-7.2),(-12.0,-7.0),(-11.1,-10.6),
            (-10.6,-15.3),(-10.0,-20.1),(-9.4,-8.1),(-8.8,-5.5),(-7.7,-7.2),(-6.8,-10.6),(-5.9,-8.9),(-5.0,-14.1),
            (-4.1,-10.6),(-3.3,-8.1),(-2.4,-10.6),(-1.8,-8.9),(-0.9,-4.6),(0.4,-5.1),(1.2,-5.9),(1.8,-12.3),
            (2.4,-14.5),(3.3,-10.6),(3.9,-5.1),(4.7,-2.1),(5.9,-5.9),(7.1,-3.3),(8.2,-5.1),(9.4,-4.2),(10.0,-3.3),
            (11.1,-2.1),(11.7,-4.6),(12.9,-5.1),(14.1,-5.9),(15.0,-3.3),(15.8,-5.9),(16.4,-7.2),(17.3,-5.1),
            (17.6,-7.2),(17.9,-10.6),(18.1,-14.5),(18.4,-18.8),(18.7,-25.2),(19.0,-31.6),(19.3,-33.8),(19.6,-25.2),
            (19.9,-18.8),(20.2,-14.5),(20.8,-10.2),(21.6,-12.3),(22.2,-16.6),(22.8,-20.9),(23.1,-25.2),(23.4,-18.8),
            (24.0,-14.5),(25.1,-12.8),(26.0,-10.6),(26.9,-8.5),(28.0,-6.8),(28.9,-5.1),(29.8,-8.1),(31.0,-6.8),
            (31.8,-5.9),(32.7,-8.9),(33.3,-10.2),(34.4,-14.5),(35.6,-11.9),(36.5,-9.8),(37.1,-14.5),(37.4,-20.9),
            (38.2,-9.3),(39.7,-10.2),(40.9,-12.3),(42.0,-11.9),(42.9,-8.9),(43.8,-14.5),(44.3,-17.1),(45.2,-20.5),
            (45.8,-14.5),(46.7,-10.6),(47.8,-9.8),(49.0,-12.8),(49.9,-16.6),(50.7,-14.9),(51.9,-7.2),(52.8,-12.3),
            (53.4,-15.8),(54.0,-12.3),(54.8,-8.9),(55.7,-4.6),(56.6,-8.1),(57.4,-6.3),(58.3,-9.8),(59.2,-14.5),
            (59.8,-20.9),(60.1,-27.3),(60.4,-18.8),(60.9,-12.3),(61.5,-7.2),(62.4,-4.6),(63.3,-7.2),(64.1,-10.6),
            (65.0,-12.3),(65.9,-8.9),(67.1,-5.5),(68.2,-11.5),(69.4,-13.2),(70.6,-11.1),(71.7,-12.3),(72.9,-14.5),
            (74.0,-15.8),(75.2,-11.5),(76.4,-10.6),(77.6,-12.3),(78.7,-7.2),(79.9,-14.5),(81.0,-9.3),(82.2,-13.6),
            (83.4,-17.5),(84.5,-14.5),(85.4,-12.3),(86.3,-8.9),(87.5,-10.6),(88.6,-11.5),(90,-9.8)]

# ---------------- panel (d) ----------------
d_sim_co = [(-90,-12.8),(-88.3,-13.7),(-85.9,-15.4),(-84.2,-17.8),(-82.1,-23.4),(-80.1,-26.8),(-78.1,-18.6),
            (-76.0,-13.5),(-73.1,-7.9),(-69.6,-3.6),(-66.1,-1.2),(-62.0,-0.2),(-59.7,-0.9),(-57.4,-3.1),(-55.6,-6.2),
            (-53.9,-8.7),(-52.1,-8.3),(-51.0,-5.7),(-49.5,-1.8),(-48.1,2.0),(-46.3,5.0),(-44.0,7.2),(-41.7,8.4),
            (-39.9,8.7),(-37.9,8.4),(-35.8,7.0),(-33.8,4.8),(-31.8,1.2),(-30.0,-3.6),(-28.3,-8.7),(-27.7,-9.2),
            (-25.9,-9.6),(-24.2,-5.1),(-22.1,-0.1),(-20.4,4.4),(-18.0,6.8),(-16.0,7.8),(-13.9,7.2),(-11.9,5.0),
            (-9.8,5.3),(-7.8,9.8),(-6.1,13.6),(-4.1,16.2),(-2.1,17.6),(0.1,17.8),(2.2,17.2),(4.0,15.7),(5.8,13.1),
            (7.9,7.2),(9.0,2.8),(10.0,-1.1),(11.1,1.5),(13.8,7.0),(16.0,8.3),(17.9,7.6),(20.0,5.4),(22.1,2.4),(23.9,-1.4),
            (25.6,-3.8),(28.0,-6.0),(29.8,-5.1),(31.6,-1.6),(33.3,1.5),(35.4,4.3),(37.8,5.9),(39.9,6.1),(42.2,5.2),
            (44.6,3.5),(47.0,0.8),(48.8,-1.6),(50.2,-2.3),(52.0,-2.7),(54.4,-1.6),(57.0,-0.9),(59.7,-0.7),(62.1,-0.9),
            (64.8,-1.6),(67.7,-2.5),(70.7,-3.3),(73.7,-4.6),(76.6,-6.4),(79.6,-8.2),(82.5,-9.9),(84.9,-11.4),
            (87.0,-12.3),(90,-12.4)]
d_meas_co = [(-90,-1.4),(-89.7,-3.6),(-89.4,-5.7),(-88.8,-6.4),(-87.9,-6.8),(-87.1,-4.9),(-86.2,-3.1),(-85.0,-1.2),
             (-84.2,-1.6),(-83.0,-2.7),(-82.4,-1.0),(-81.6,0.7),(-81.0,-0.1),(-80.4,-3.1),(-79.8,-4.9),(-78.6,-2.7),
             (-77.8,-2.5),(-77.5,-5.7),(-76.9,-11.3),(-76.3,-7.9),(-76.0,-3.6),(-75.1,-4.4),(-74.3,-6.6),(-73.1,-4.9),
             (-72.5,-7.0),(-72.2,-10.5),(-71.7,-12.6),(-71.1,-10.5),(-70.5,-12.6),(-70.2,-17.3),(-69.6,-15.6),
             (-69.0,-11.7),(-68.2,-11.7),(-67.6,-9.2),(-67.0,-6.2),(-66.1,-5.3),(-65.5,-1.8),(-64.9,-3.6),(-64.1,-9.6),
             (-63.5,-12.6),(-62.9,-16.0),(-62.0,-14.3),(-61.5,-11.3),(-60.9,-9.6),(-60.6,-6.6),(-60.0,-1.8),
             (-59.1,-2.7),(-58.5,-4.9),(-58.3,0.7),(-57.4,-1.8),(-56.2,-3.1),(-55.6,-0.1),(-55.1,2.5),(-54.5,-1.8),
             (-53.3,-2.3),(-52.1,-2.7),(-51.6,-2.3),(-50.7,0.7),(-49.8,1.4),(-48.6,-0.1),(-47.8,-1.0),(-46.9,0.7),
             (-45.7,2.0),(-44.6,3.3),(-43.4,4.2),(-42.2,4.6),(-41.4,5.5),(-39.9,7.2),(-38.7,6.3),(-37.6,7.4),(-36.1,6.8),
             (-34.7,6.3),(-32.9,6.5),(-31.2,6.5),(-29.4,6.8),(-28.3,7.2),(-26.5,5.9),(-25.1,5.2),(-23.6,6.1),(-21.9,7.4),
             (-20.1,8.0),(-18.4,8.9),(-16.6,9.1),(-15.2,8.5),(-14.3,9.3),(-12.8,8.9),(-11.7,7.2),(-10.8,5.5),(-9.9,3.3),
             (-9.0,0.7),(-8.4,-0.6),(-7.9,-1.8),(-7.3,0.7),(-6.4,3.3),(-5.6,5.9),(-4.7,8.5),(-3.5,11.1),(-2.6,13.6),
             (-1.5,14.5),(0.1,14.6),(1.3,15.5),(3.1,15.5),(4.3,14.4),(6.1,12.4),(7.6,9.8),(8.7,6.7),(9.6,3.7),(10.5,1.1),
             (11.1,-1.6),(11.7,-4.2),(12.3,-6.4),(12.9,-2.5),(13.8,-0.7),(14.7,1.1),(15.6,2.8),(16.4,4.1),(17.9,5.4),
             (19.7,6.1),(20.9,5.4),(21.8,2.8),(22.4,0.2),(23.3,-1.6),(23.9,-4.2),(24.7,-4.6),(25.6,-5.5),(26.5,-6.0),
             (27.4,-9.0),(28.0,-11.2),(28.6,-8.6),(29.2,-5.5),(29.8,-4.2),(30.7,-2.5),(31.6,-1.1),(32.5,1.9),(33.3,3.7),
             (34.5,5.0),(35.7,6.3),(37.5,7.0),(39.0,7.6),(40.5,7.8),(42.2,8.1),(43.4,6.7),(44.6,4.6),(45.8,2.8),
             (47.0,1.1),(48.2,-0.7),(49.1,-3.3),(49.6,-6.4),(50.5,-10.3),(51.1,-11.2),(51.7,-9.5),(52.6,-7.7),
             (53.5,-5.1),(54.1,-0.7),(55.0,1.5),(55.9,0.2),(57.1,-0.7),(58.2,0.2),(59.4,0.6),(60.3,1.1),(61.2,0.2),
             (62.4,-1.1),(63.6,-1.6),(64.5,-2.5),(65.4,-4.6),(66.2,-6.8),(67.1,-8.6),(68.0,-10.3),(68.9,-9.5),
             (69.8,-11.7),(70.7,-10.3),(71.6,-7.7),(72.5,-10.8),(73.4,-13.0),(74.2,-15.2),(75.4,-17.4),(76.3,-15.2),
             (77.2,-11.2),(78.1,-9.5),(79.0,-12.1),(79.9,-9.9),(80.8,-7.7),(81.7,-9.0),(82.5,-10.3),(83.4,-11.2),
             (84.3,-16.5),(84.9,-19.5),(85.8,-15.2),(86.7,-13.0),(87.3,-18.2),(87.9,-25.2),(88.5,-21.7),(88.8,-16.5),
             (89.1,-11.2),(90,-10.3)]
d_sim_x = [(-90,-6.7),(-87.5,-6.2),(-84.9,-5.6),(-82.4,-5.2),(-80.0,-4.5),(-77.5,-4.1),(-74.9,-3.7),(-72.2,-3.4),
           (-69.7,-3.7),(-67.2,-4.0),(-64.7,-4.5),(-62.2,-5.5),(-59.9,-6.0),(-57.7,-7.2),(-55.9,-8.6),(-54.6,-10.4),
           (-53.6,-12.0),(-52.7,-13.9),(-52.0,-15.7),(-51.3,-17.6),(-50.7,-19.4),(-50.0,-21.3),(-49.1,-19.8),
           (-48.2,-17.9),(-47.4,-16.1),(-46.3,-14.3),(-45.2,-12.7),(-42.9,-12.5),(-41.4,-13.9),(-40.1,-15.5),
           (-38.2,-14.5),(-37.3,-12.8),(-36.7,-10.9),(-35.3,-7.2),(-34.2,-5.5),(-32.9,-3.8),(-31.2,-2.3),(-29.0,-1.4),
           (-26.5,-1.8),(-24.4,-2.9),(-22.0,-3.9),(-19.8,-2.9),(-18.1,-1.5),(-16.2,-0.2),(-13.9,0.8),(-11.4,1.4),
           (-8.9,1.5),(-6.4,0.9),(-4.6,-0.5),(-3.1,-2.1),(-1.9,-3.8),(-0.6,-5.3),(0.7,-4.7),(1.9,-2.9),(3.0,-1.1),
           (4.0,0.7),(5.3,2.5),(6.8,4.0),(8.9,5.2),(11.3,5.6),(13.8,5.0),(16.0,4.0),(18.2,2.8),(20.3,1.7),(22.7,0.8),
           (25.0,0.2),(27.4,-0.7),(29.5,-1.9),(31.1,-3.3),(32.9,-4.9),(34.8,-6.1),(37.2,-6.3),(39.7,-5.6),(42.2,-5.4),
           (44.4,-6.4),(46.2,-7.8),(47.6,-9.4),(50.2,-12.8),(52.3,-13.4),(54.1,-12.1),(55.9,-10.6),(58.2,-9.8),
           (60.8,-10.0),(63.0,-11.0),(65.1,-12.3),(66.8,-13.8),(68.8,-14.9),(71.3,-15.4),(73.6,-14.6),(75.9,-13.7),
           (78.4,-13.0),(80.9,-12.4),(83.4,-12.1),(86.0,-11.9),(88.6,-12.0),(90,-12.1)]
d_meas_x = [(-90,-33.7),(-89.8,-29.4),(-89.7,-23.8),(-89.5,-19.5),(-89.4,-14.3),(-89.1,-8.7),(-88.5,-7.9),
            (-87.7,-7.9),(-86.5,-8.7),(-85.4,-10.5),(-83.9,-10.9),(-83.3,-7.4),(-82.7,-9.6),(-82.1,-12.2),(-81.6,-13.5),
            (-81.0,-14.3),(-80.4,-17.3),(-80.1,-20.3),(-79.5,-14.3),(-79.2,-10.5),(-78.6,-8.3),(-77.5,-7.2),
            (-76.6,-6.6),(-75.7,-7.0),(-74.9,-4.4),(-74.0,-1.4),(-73.4,-3.1),(-72.5,-1.8),(-71.4,-1.0),(-70.5,-3.6),
            (-69.6,-6.2),(-69.3,-8.7),(-68.7,-12.2),(-68.2,-7.0),(-67.3,-4.4),(-66.4,-3.6),(-65.8,-1.8),(-65.0,-4.9),
            (-64.1,-7.0),(-63.2,-7.9),(-62.3,-4.9),(-61.5,-5.7),(-60.6,-7.9),(-60.0,-11.7),(-59.7,-13.9),(-59.1,-9.2),
            (-58.5,-3.6),(-57.9,-2.7),(-57.1,-4.9),(-56.2,-5.3),(-55.3,-3.6),(-54.5,-5.7),(-53.6,-7.0),(-52.7,-6.6),
            (-51.9,-6.2),(-51.0,-8.3),(-50.1,-7.4),(-49.2,-6.2),(-48.6,-7.0),(-48.1,-10.5),(-47.5,-12.2),(-46.9,-10.0),
            (-46.3,-14.3),(-45.7,-16.0),(-45.2,-13.9),(-44.6,-8.7),(-44.0,-12.2),(-43.4,-14.3),(-42.8,-16.0),
            (-42.0,-14.3),(-41.1,-14.8),(-39.9,-13.5),(-38.7,-11.7),(-38.2,-5.7),(-37.6,-8.7),(-37.0,-12.2),
            (-36.4,-7.9),(-35.8,-7.0),(-35.0,-8.7),(-34.1,-8.7),(-33.5,-10.0),(-32.9,-12.2),(-32.6,-14.3),(-32.3,-17.8),
            (-32.0,-20.8),(-31.7,-24.6),(-31.2,-20.8),(-30.3,-18.6),(-29.7,-16.5),(-29.1,-14.3),(-28.8,-12.2),
            (-28.5,-10.0),(-28.2,-7.0),(-27.4,-8.5),(-25.9,-8.7),(-24.8,-7.9),(-24.2,-5.7),(-23.3,-3.1),(-22.4,-1.8),
            (-21.9,-2.7),(-20.4,-4.9),(-19.8,-6.6),(-19.2,-8.3),(-17.8,-10.0),(-16.9,-12.2),(-16.3,-10.5),(-15.7,-8.3),
            (-14.9,-6.2),(-14.3,-4.4),(-13.4,-3.6),(-12.5,-5.3),(-11.7,-5.3),(-11.1,-2.7),(-10.5,-1.8),(-9.7,-4.0),
            (-9.1,-1.8),(-7.9,-3.6),(-7.3,-5.7),(-6.5,-8.3),(-5.6,-7.0),(-5.0,-6.2),(-4.1,-8.3),(-3.3,-6.6),(-2.7,-5.7),
            (-1.5,-7.9),(-0.6,-9.6),(0.7,-12.5),(1.9,-12.1),(2.8,-13.8),(3.4,-11.2),(4.0,-1.6),(4.3,-6.8),(4.9,-9.5),
            (5.8,-10.3),(6.7,-4.2),(7.3,-8.6),(7.6,-13.0),(7.9,-17.4),(8.0,-21.7),(8.1,-25.2),(8.7,-15.2),(9.3,-8.6),
            (9.9,-2.5),(10.5,-10.3),(11.1,-15.2),(11.7,-9.0),(12.6,-4.2),(13.8,0.2),(14.7,-2.9),(15.9,-3.8),
            (16.7,-6.8),(17.9,-9.5),(18.8,-6.4),(19.7,-9.5),(20.3,-12.1),(20.9,-15.2),(21.8,-13.8),(22.4,-11.2),
            (23.0,-8.6),(23.6,-15.2),(23.9,-19.5),(24.0,-25.5),(24.5,-19.5),(24.7,-13.0),(25.3,-11.2),(25.9,-15.2),
            (26.5,-10.3),(27.4,-7.7),(28.3,-10.3),(29.2,-8.6),(30.1,-12.5),(31.0,-10.3),(32.2,-7.7),(33.3,-6.8),
            (34.8,-7.3),(36.3,-4.2),(37.5,-3.3),(38.7,-4.2),(39.9,-7.7),(40.5,-11.2),(40.8,-16.5),(41.3,-9.5),
            (42.2,-6.8),(43.1,-11.2),(44.0,-12.5),(44.9,-9.5),(45.8,-12.1),(46.7,-10.3),(47.6,-8.6),(48.5,-10.8),
            (49.3,-13.0),(49.9,-15.2),(50.5,-12.1),(51.4,-10.3),(52.3,-8.6),(53.8,-7.3),(55.0,-8.6),(56.2,-7.7),
            (58.0,-6.8),(59.4,-4.6),(60.9,-6.4),(62.1,-4.6),(63.3,-3.8),(64.2,-3.3),(65.1,-1.1),(66.0,-4.2),
            (66.9,-3.8),(67.7,-7.7),(68.6,-9.5),(69.5,-9.9),(70.4,-5.1),(71.0,-8.6),(71.6,-15.2),(72.2,-20.4),
            (72.8,-16.5),(73.4,-13.0),(74.0,-9.9),(74.5,-7.7),(75.4,-5.1),(76.3,-6.8),(77.2,-8.6),(77.8,-4.2),
            (78.7,-6.8),(79.6,-5.1),(80.5,-6.8),(81.4,-7.7),(82.2,-5.5),(83.1,-3.8),(84.0,-2.9),(84.9,-5.5),
            (85.5,-8.6),(86.1,-13.0),(86.7,-17.4),(87.3,-13.0),(87.9,-7.7),(88.5,-4.2),(89.1,-2.9),(90,-2.9)]

PANELS = [
    (a_sim_co, a_meas_co, a_sim_x, a_meas_x),
    (b_sim_co, b_meas_co, b_sim_x, b_meas_x),
    (c_sim_co, c_meas_co, c_sim_x, c_meas_x),
    (d_sim_co, d_meas_co, d_sim_x, d_meas_x),
]

# ---------------- layout / styles ----------------
W, H = 3811, 2494
# axes boxes in pixels: left, top, right, bottom
BOXES = [(223, 41, 1802, 990), (2175, 50, 3752, 999), (231, 1278, 1808, 2226), (2170, 1290, 3748, 2239)]
LEG_ANCHOR = [(0.982, 0.979), (0.983, 0.976), (0.997, 0.984), (0.998, 0.986)]
CAPTION_POS = [(1013, 1222), (2977, 1222), (1013, 2449), (2977, 2449)]

STYLES = [
    dict(color='black', lw=5.4, linestyle='-', solid_joinstyle='round', solid_capstyle='round'),
    dict(color='#ff0000', lw=5.4, dashes=(2.75, 3.1), dash_capstyle='round', dash_joinstyle='round'),
    dict(color='#0000ff', lw=5.8, dashes=(0.01, 2.85), dash_capstyle='round'),
    dict(color='#ff00ff', lw=5.4, dashes=(2.75, 3.1, 0.01, 2.9), dash_capstyle='round', dash_joinstyle='round'),
]

FS = 44

fig = plt.figure(figsize=(W / 100, H / 100), dpi=100)
fig.patch.set_facecolor('white')

for i, (series, box) in enumerate(zip(PANELS, BOXES)):
    l, t, r, b = box
    ax = fig.add_axes([l / W, 1 - b / H, (r - l) / W, (b - t) / H])
    for pts, st, lab in zip(series, STYLES, LABELS):
        arr = np.array(pts, dtype=float)
        ax.plot(arr[:, 0], arr[:, 1], label=lab, **st)
    ax.set_xlim(-90, 90)
    ax.set_ylim(-50, 30)
    ax.set_xticks(XTICKS)
    ax.set_xticks([-75, -45, -15, 15, 45, 75], minor=True)
    ax.set_yticks(YTICKS)
    ax.set_yticks([-37.5, -22.5, -7.5, 7.5, 22.5], minor=True)
    for side in ['left', 'bottom', 'top']:
        ax.spines[side].set_linewidth(5.5)
    ax.spines['right'].set_linewidth(4.5)
    ax.tick_params(which='both', direction='out', top=False, right=False, width=5, color='black')
    ax.tick_params(which='major', length=12.5)
    ax.tick_params(which='minor', length=6)
    ax.tick_params(axis='x', which='major', pad=6, labelsize=FS)
    ax.tick_params(axis='y', which='major', pad=17, labelsize=FS)
    ax.set_xlabel('Angle (degree)', fontsize=FS - 1)
    ax.xaxis.set_label_coords(0.5, -0.14)
    ax.xaxis.label.set_va('center')
    ax.set_ylabel('Realized Gain  (dBi)', fontsize=FS - 1)
    ax.yaxis.set_label_coords(-0.101, 0.532)
    ax.legend(loc='upper right', bbox_to_anchor=LEG_ANCHOR[i], frameon=False, fontsize=FS,
              labelspacing=0.10, handlelength=1.93, handletextpad=0.52, borderpad=0.0,
              borderaxespad=0.0)
    cx, cy = CAPTION_POS[i]
    fig.text(cx / W, 1 - cy / H, CAPTIONS[i], ha='center', va='center', fontsize=FS - 1)

fig.savefig('out.png', dpi=100, facecolor='white')
